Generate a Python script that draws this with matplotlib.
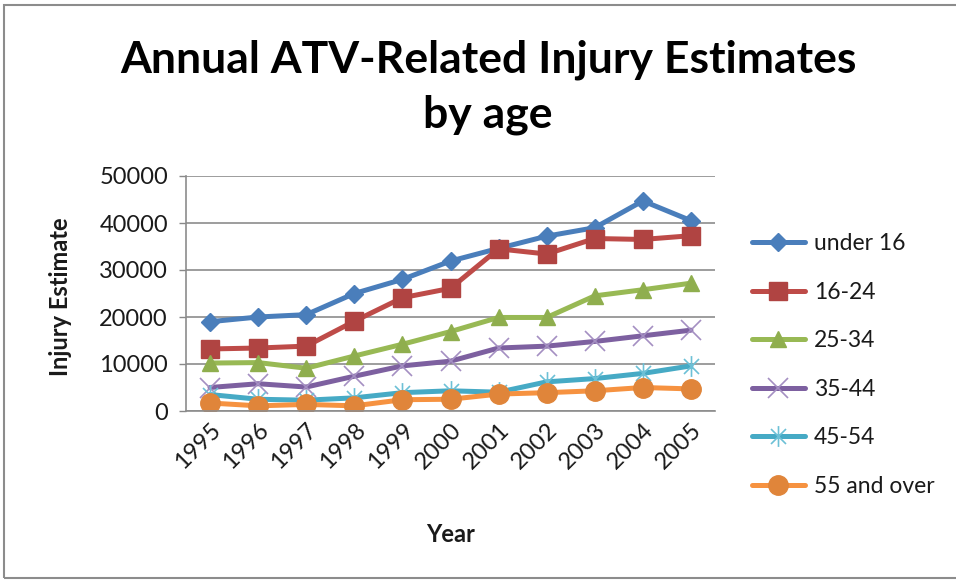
import matplotlib
matplotlib.use("Agg")
import matplotlib.pyplot as plt
from matplotlib.path import Path
from matplotlib.patches import Rectangle

years = ["1995", "1996", "1997", "1998", "1999", "2000", "2001", "2002", "2003", "2004", "2005"]
under_16 = [19000, 20000, 20500, 25000, 28000, 31900, 34600, 37200, 39000, 44700, 40500]
age_16_24 = [13200, 13400, 13800, 19100, 24100, 26100, 34500, 33400, 36700, 36500, 37300]
age_25_34 = [10200, 10300, 9100, 11700, 14200, 16900, 19900, 19900, 24500, 25800, 27200]
age_35_44 = [5000, 5800, 5100, 7400, 9600, 10600, 13400, 13800, 14800, 16000, 17200]
age_45_54 = [3500, 2500, 2300, 2800, 3900, 4300, 4000, 6200, 6900, 8000, 9600]
age_55_over = [1700, 1100, 1400, 1100, 2400, 2500, 3600, 3900, 4300, 5000, 4700]

series_names = ["under 16", "16-24", "25-34", "35-44", "45-54", "55 and over"]
tick_vals = [0, 10000, 20000, 30000, 40000, 50000]

star = Path([(0, -1), (0, 1), (-0.72, -0.72), (0.72, 0.72), (-0.72, 0.72), (0.72, -0.72)],
            [Path.MOVETO, Path.LINETO, Path.MOVETO, Path.LINETO, Path.MOVETO, Path.LINETO])

styles = [
    dict(color="#4A7EBB", marker="D", ms=9.5, mec="#4A7EBB"),
    dict(color="#BE4B48", marker="s", ms=13, mec="#B04442", mfc="#B04442"),
    dict(color="#98B954", marker="^", ms=12, mec="#8FAE4E", mfc="#8FAE4E"),
    dict(color="#7D60A0", marker="x", ms=14, mec="#A48FC2", mew=1.2),
    dict(color="#46AAC5", marker=star, ms=15, mec="#6CC0D6", mew=1.2),
    dict(color="#F69240", marker="o", ms=14, mec="#E0853A", mfc="#E0853A"),
]

plt.rcParams['font.family'] = ['Lato', 'DejaVu Sans']
fig = plt.figure(figsize=(9.56, 5.80), dpi=100)
ax = fig.add_axes([186/956, 1-411/580, (715-186)/956, (411-176)/580])

x = list(range(len(years)))
all_series = [under_16, age_16_24, age_25_34, age_35_44, age_45_54, age_55_over]
for name, vals, st in zip(series_names, all_series, styles):
    ax.plot(x, vals, lw=3.6, label=name, solid_capstyle="round", solid_joinstyle="round", **st)

ax.set_xlim(-0.5, len(years) - 0.5)
ax.set_ylim(0, 50000)
ax.set_yticks(tick_vals)
ax.set_yticklabels([str(v) for v in tick_vals], fontsize=17, color="#1a1a1a")
ax.set_xticks(x)
ax.set_xticklabels(years, fontsize=17, rotation=45, ha="right", va="top",
                   rotation_mode="anchor", color="#1a1a1a")
ax.tick_params(axis="x", length=0, pad=6)
ax.tick_params(axis="y", length=5, width=1, color="#888888", pad=8)
ax.grid(axis="y", color="#8c8c8c", lw=1.2)
ax.set_axisbelow(True)
for s in ["top", "right"]:
    ax.spines[s].set_visible(False)
for s in ["left", "bottom"]:
    ax.spines[s].set_color("#8c8c8c")
    ax.spines[s].set_linewidth(1.2)

fig.text(60/956, 1-297/580, "Injury Estimate", rotation=90, ha="center", va="center",
         fontsize=17, fontweight="bold", color="#1a1a1a")
fig.text(451/956, 1-535/580, "Year", ha="center", va="center",
         fontsize=17, fontweight="bold", color="#1a1a1a")
fig.text(488/956, 1-60/580, "Annual ATV-Related Injury Estimates", ha="center", va="center",
         fontsize=32, fontweight="bold", color="black")
fig.text(488/956, 1-115/580, "by age", ha="center", va="center",
         fontsize=32, fontweight="bold", color="black")

leg = ax.legend(loc="center left", bbox_to_anchor=(752/956, 1-365/580), bbox_transform=fig.transFigure,
                frameon=False, fontsize=16.5, handlelength=2.3, labelspacing=1.2, handletextpad=0.4,
                labelcolor="#1a1a1a", borderaxespad=0, borderpad=0)

fig.patches.append(Rectangle((4/956, 2/580), 1.2, 1-7/580, transform=fig.transFigure,
                             fill=False, edgecolor="#8c8c8c", lw=1.5))

fig.savefig("out.png", dpi=100)
